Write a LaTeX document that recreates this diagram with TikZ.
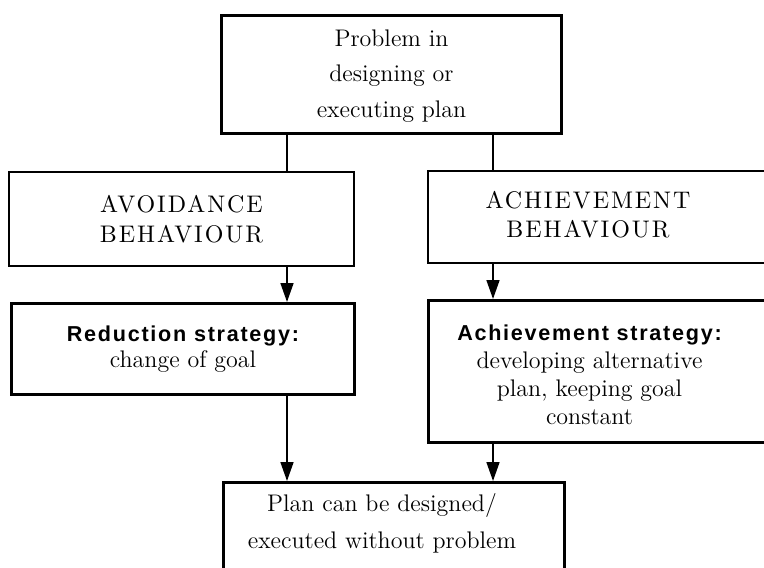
\documentclass[tikz,border=0pt]{standalone}
\usepackage{fontspec}
\newfontfamily\stratfont[Scale=0.9,LetterSpace=8]{Liberation Sans}
\newfontfamily\capfont[LetterSpace=8]{lmroman10-regular.otf}
\usetikzlibrary{arrows.meta}
\tikzset{
	box/.style={draw,line width=1.5pt,anchor=north west,inner sep=0pt},
	thinbox/.style={box,line width=1pt},
	line/.style={line width=0.8pt},
	edge/.style={line,-{Triangle[length=9.5pt,width=6.5pt]}},
	serif/.style={font=\fontsize{12}{#1}\selectfont},
	caps/.style={font=\capfont\fontsize{12}{#1}\selectfont}
}
\begin{document}
\begin{tikzpicture}[x=0.5pt,y=-0.5pt]
	\useasboundingbox (0,0) rectangle (764,567);
	\clip (0,0) rectangle (764,567);
	\coordinate (colL) at (287,0);
	\coordinate (colR) at (493,0);
	
	\node[box,minimum width=170pt,minimum height=59pt,serif=17.75pt] (problem) at (220,14) {\begin{tabular}{@{}c@{}}Problem in\\designing or\\executing plan\end{tabular}};
	
	\node[thinbox,minimum width=172.5pt,minimum height=47pt,align=center,caps=15pt] (avoid) at (8,171) {AVOIDANCE\\BEHAVIOUR};
	\node[thinbox,minimum width=180pt,minimum height=46pt,caps=14.5pt] (achbeh) at (427,170) {\begin{tabular}{@{}c@{}}ACHIEVEMENT\\BEHAVIOUR\end{tabular}\hspace*{20pt}\mbox{}};
	
	\node[box,minimum width=171.5pt,minimum height=45.5pt,align=center,serif=13pt] (reduce) at (10,302) {{\stratfont\bfseries Reduction strategy:}\\change of goal};
	\node[box,minimum width=180pt,minimum height=71pt,text height=36pt,serif=14pt] (achstrat) at (427,299) {\begin{tabular}{@{}c@{}}{\stratfont\bfseries Achievement strategy:}\\developing alternative\\plan, keeping goal\\constant\end{tabular}\hspace*{19pt}\mbox{}};
	
	\node[box,minimum width=170.5pt,minimum height=50pt,text depth=25.5pt,serif=18.5pt] (plan) at (222,481) {\begin{tabular}{@{}c@{}}Plan can be designed/\\executed without problem\end{tabular}\hspace*{12pt}\mbox{}};
	
	\draw[line] (problem.south -| colL) -- (avoid.north -| colL);
	\draw[line] (problem.south -| colR) -- (achbeh.north -| colR);
	\draw[edge] (avoid.south -| colL) -- (reduce.north -| colL);
	\draw[edge] (achbeh.south -| colR) -- (achstrat.north -| colR);
	\draw[edge] (reduce.south -| colL) -- (plan.north -| colL);
	\draw[edge] (achstrat.south -| colR) -- (plan.north -| colR);
\end{tikzpicture}
\end{document}
